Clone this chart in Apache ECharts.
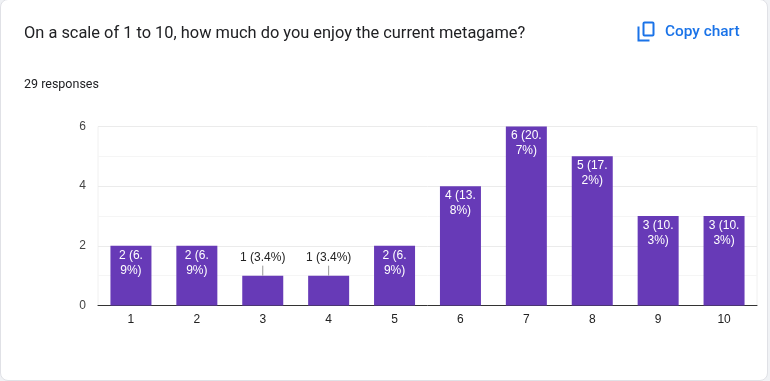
<!DOCTYPE html>
<html>
<head>
<meta charset="utf-8">
<style>
  html, body { margin: 0; padding: 0; background: #f0f2f5; }
  #card { position: absolute; left: 0; top: -1px; width: 766px; height: 380px; background: #fff;
    border: 1px solid #e0e1e6; border-radius: 8px; }
  #chart { position: absolute; left: 0; top: 0; width: 770px; height: 381px; }
</style>
<script src="https://cdn.jsdelivr.net/npm/echarts@6/dist/echarts.min.js"></script>
</head>
<body>
<div id="card"></div>
<div id="chart"></div>
<script>
var categories = ["1", "2", "3", "4", "5", "6", "7", "8", "9", "10"];
var counts = [2, 2, 1, 1, 2, 4, 6, 5, 3, 3];
var barLabels = [
  "2 (6.\n9%)", "2 (6.\n9%)", "1 (3.4%)", "1 (3.4%)", "2 (6.\n9%)",
  "4 (13.\n8%)", "6 (20.\n7%)", "5 (17.\n2%)", "3 (10.\n3%)", "3 (10.\n3%)"
];
var outsideBars = [2, 3]; // too short for the label, drawn above with a leader

var chart = echarts.init(document.getElementById("chart"));
var font = "Roboto, Arial, sans-serif";
var chartFont = "'Liberation Sans', Arial, sans-serif";

var option = {
  animation: false,
  title: [
    {
      text: "On a scale of 1 to 10, how much do you enjoy the current metagame?",
      left: 19, top: 21,
      textStyle: { fontFamily: font, fontSize: 16.4, fontWeight: 400, color: "#202124" },
    },
    {
      text: "29 responses",
      left: 19, top: 73,
      textStyle: { fontFamily: font, fontSize: 12.5, fontWeight: 400, color: "#202124" },
    },
    {
      text: "Copy chart",
      left: 660, top: 20,
      textStyle: { fontFamily: font, fontSize: 15.4, fontWeight: 500, color: "#1a73e8" },
    },
  ],
  graphic: [
    // copy icon
    { type: "rect", left: 641, top: 20, shape: { width: 10, height: 13, r: 1 },
      style: { fill: "none", stroke: "#1a73e8", lineWidth: 2 } },
    { type: "polyline", left: 636, top: 24, shape: { points: [[1, 0], [1, 14], [12, 14]] },
      style: { fill: "none", stroke: "#1a73e8", lineWidth: 2 } },
  ],
  grid: {
    left: 98, right: 13, top: 126.5, bottom: 75.5,
    show: true, borderColor: "#f0f0f0", borderWidth: 1,
  },
  xAxis: {
    type: "category",
    data: categories,
    axisTick: { show: false },
    axisLine: { lineStyle: { color: "#333333", width: 1 } },
    axisLabel: { fontFamily: chartFont, fontSize: 12, color: "#222222", margin: 8 },
  },
  yAxis: {
    type: "value",
    min: 0, max: 6, interval: 2,
    axisLine: { show: false },
    axisTick: { show: false },
    axisLabel: { fontFamily: chartFont, fontSize: 12, color: "#444444", margin: 12 },
    splitLine: { lineStyle: { color: "#ebebeb", width: 1 } },
    minorTick: { show: false, splitNumber: 2 },
    minorSplitLine: { show: true, lineStyle: { color: "#f5f5f5", width: 1 } },
  },
  series: [
    {
      type: "bar",
      barWidth: 41,
      itemStyle: { color: "#673ab7" },
      data: counts.map(function (v, i) {
        var outside = outsideBars.indexOf(i) >= 0;
        return {
          value: v,
          label: outside
            ? { position: "top", distance: 0, color: "#222222" }
            : { position: "insideTop", distance: 2, color: "#ffffff" },
        };
      }),
      label: {
        show: true,
        fontFamily: chartFont,
        fontSize: 12,
        lineHeight: 15,
        formatter: function (p) { return barLabels[p.dataIndex]; },
      },
      labelLine: { show: true, showAbove: true, lineStyle: { color: "#999999", width: 1 } },
      labelLayout: function (p) {
        return outsideBars.indexOf(p.dataIndex) >= 0 ? { dy: -10 } : {};
      },
    },
  ],
};
chart.setOption(option);
</script>
</body>
</html>
